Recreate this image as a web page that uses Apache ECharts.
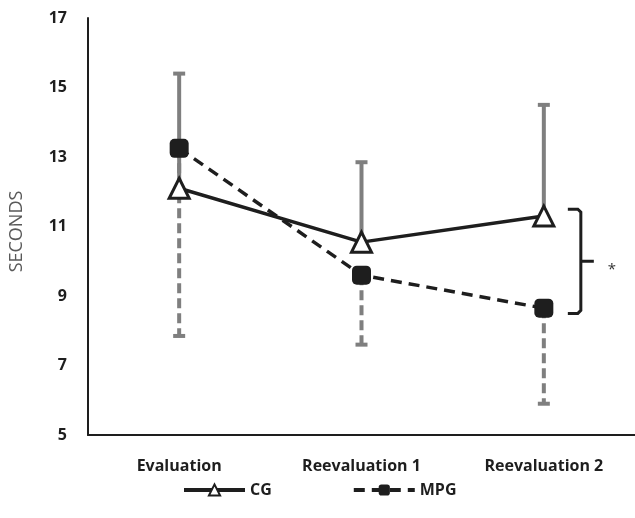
<!DOCTYPE html>
<html>
<head>
<meta charset="utf-8">
<script src="https://cdn.jsdelivr.net/npm/echarts@6/dist/echarts.min.js"></script>
<style>
  html, body { margin: 0; padding: 0; background: #fff; }
  #chart { width: 635px; height: 518px; }
</style>
</head>
<body>
<div id="chart"></div>
<script>
// values
const categories = ['Evaluation', 'Reevaluation 1', 'Reevaluation 2']
const cgMean = [12.1, 10.55, 11.3]
const cgUpper = [15.4, 12.85, 14.5]
const mpgMean = [13.25, 9.6, 8.65]
const mpgLower = [7.85, 7.6, 5.9]
// significance bracket at Reevaluation 2
const bracketSpan = [11.5, 8.5]

const ink = '#1e1e1e'
const barGray = '#7f7f7f'
const font = '"Open Sans", Lato, sans-serif'

function errorBar(dashed) {
  return function(params, api) {
    const p0 = api.coord([api.value(0), api.value(1)])
    const p1 = api.coord([api.value(0), api.value(2)])
    return {
      type: 'group',
      children: [
        {
          type: 'line',
          shape: { x1: p0[0], y1: p0[1], x2: p1[0], y2: p1[1] },
          style: { stroke: barGray, lineWidth: 4, lineDash: dashed ? [10, 5] : null }
        },
        {
          type: 'line',
          shape: { x1: p1[0] - 6, y1: p1[1], x2: p1[0] + 6, y2: p1[1] },
          style: { stroke: barGray, lineWidth: 4 }
        }
      ]
    }
  }
}

const chart = echarts.init(document.getElementById('chart'))
chart.setOption({
  animation: false,
  grid: { left: 88, right: -5, top: 18, bottom: 83 },
  legend: {
    left: 177,
    top: 477,
    itemWidth: 61,
    itemHeight: 14,
    itemGap: 80,
    lineStyle: { width: 4 },
    textStyle: { fontFamily: font, fontWeight: 'bold', fontSize: 16, color: ink },
    data: ['CG', 'MPG']
  },
  xAxis: {
    type: 'category',
    data: categories,
    axisLine: { lineStyle: { color: ink, width: 2 } },
    axisTick: { show: false },
    axisLabel: { fontFamily: font, fontWeight: 'bold', fontSize: 16, color: ink, margin: 23 }
  },
  yAxis: {
    type: 'value',
    min: 5,
    max: 17,
    interval: 2,
    name: 'SECONDS',
    nameLocation: 'middle',
    nameRotate: 90,
    nameGap: 62,
    nameTextStyle: { fontFamily: font, fontSize: 18, color: '#595959', padding: [0, 10, 0, 0] },
    axisLine: { show: true, lineStyle: { color: ink, width: 2 } },
    axisTick: { show: false },
    splitLine: { show: false },
    axisLabel: { fontFamily: font, fontWeight: 'bold', fontSize: 16, color: ink, margin: 21 }
  },
  series: [
    {
      type: 'custom',
      name: 'cgErr',
      z: 1,
      renderItem: errorBar(false),
      data: categories.map((c, i) => [i, cgMean[i], cgUpper[i]]),
      silent: true
    },
    {
      type: 'custom',
      name: 'mpgErr',
      z: 1,
      renderItem: errorBar(true),
      data: categories.map((c, i) => [i, mpgMean[i], mpgLower[i]]),
      silent: true
    },
    {
      name: 'MPG',
      type: 'line',
      z: 3,
      data: mpgMean,
      symbol: 'roundRect',
      symbolSize: 19,
      lineStyle: { color: ink, width: 3.5, type: [11, 7] },
      itemStyle: { color: ink, borderColor: ink, borderWidth: 0 }
    },
    {
      name: 'CG',
      type: 'line',
      z: 4,
      data: cgMean,
      symbol: 'triangle',
      symbolSize: 20,
      lineStyle: { color: ink, width: 3.5 },
      itemStyle: { color: '#fff', borderColor: ink, borderWidth: 3 }
    },
    {
      type: 'custom',
      name: 'bracket',
      z: 5,
      silent: true,
      data: [[2, bracketSpan[0], bracketSpan[1]]],
      renderItem: function(params, api) {
        const top = api.coord([api.value(0), api.value(1)])
        const bot = api.coord([api.value(0), api.value(2)])
        const x0 = top[0] + 24
        const x1 = top[0] + 37
        const mid = (top[1] + bot[1]) / 2
        return {
          type: 'group',
          children: [
            {
              type: 'polyline',
              shape: { points: [[x0, top[1]], [x1 - 3, top[1]], [x1, top[1] + 3], [x1, bot[1] - 3], [x1 - 3, bot[1]], [x0, bot[1]]] },
              style: { stroke: ink, lineWidth: 3, fill: null }
            },
            {
              type: 'line',
              shape: { x1: x1, y1: mid, x2: x1 + 13, y2: mid },
              style: { stroke: ink, lineWidth: 3 }
            },
            {
              type: 'text',
              x: x1 + 31,
              y: mid + 8,
              style: { text: '*', fill: '#333', font: '15px ' + font, align: 'center', verticalAlign: 'middle' }
            }
          ]
        }
      }
    }
  ]
})
</script>
</body>
</html>
